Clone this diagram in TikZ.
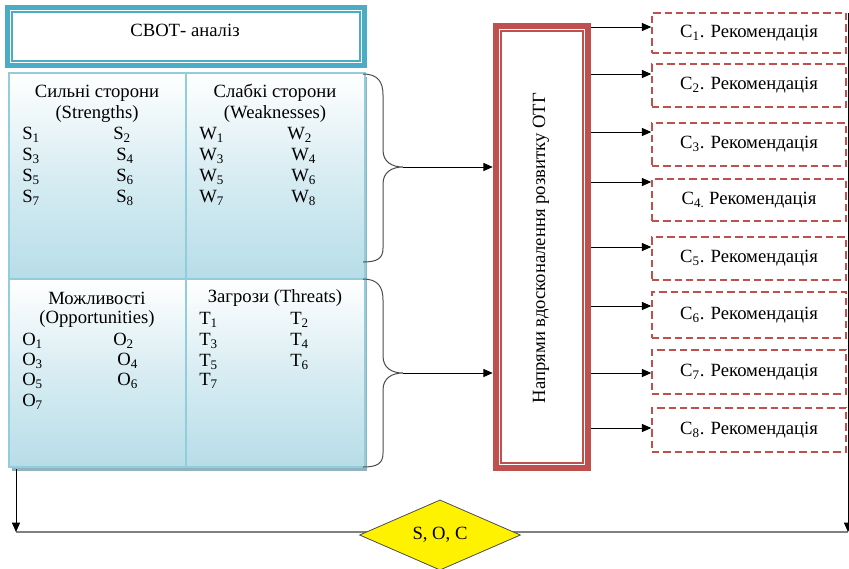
\documentclass[tikz,border=0pt]{standalone}
\usepackage{fontspec}
\setmainfont{Liberation Serif}
\usetikzlibrary{arrows.meta,shapes.geometric}
\definecolor{tealc}{HTML}{4BACC6}
\definecolor{cellblue}{HTML}{B7DDE8}
\definecolor{gridc}{HTML}{92CDDC}
\definecolor{shadowc}{HTML}{8FB4BE}
\definecolor{redc}{HTML}{C0504D}
\begin{document}
\begin{tikzpicture}[x=0.75pt,y=-0.75pt,
  every node/.style={font=\fontsize{14}{16}\selectfont, inner sep=0pt},
  arr/.style={-{Triangle[length=7pt,width=6pt]}, line width=0.75pt, black},
  bracec/.style={draw=black!70, line width=0.75pt},
  recbox/.style={draw=redc, dash pattern=on 5.5pt off 3pt, line width=1.1pt, minimum width=145.5pt},
  cellshade/.style={top color=white, bottom color=cellblue, middle color=white!45!cellblue},
  item/.style={anchor=west},
  ttl/.style={anchor=center}]
\useasboundingbox (0,0) rectangle (849,568);

% ---- title box
\draw[tealc, line width=3.4pt] (7.5,7.5) rectangle (364.5,65.5);
\draw[tealc, line width=0.8pt] (12,12) rectangle (360,61);
\node (T) at (185,30) {СВОТ- аналіз};

% ---- SWOT grid
\fill[shadowc] (12,77) rectangle (367,471);
\shade[cellshade] (9,73) rectangle (186,279);
\shade[cellshade] (186,73) rectangle (365,279);
\shade[cellshade] (9,279) rectangle (186,467);
\shade[cellshade] (186,279) rectangle (365,467);
\draw[gridc, line width=0.9pt] (9,73) rectangle (365,467);
\draw[gridc, line width=0.9pt] (186,73) -- (186,467);
\draw[gridc, line width=0.9pt] (9,279) -- (365,279);
\node[minimum width=267pt, minimum height=295.5pt] (G) at (187,270) {};

% S cell
\node[ttl] (sh1) at (97,93) {Сильні сторони};
\node[ttl] (sh2) at (97,114) {(Strengths)};
\node[item] (s1) at (22,135) {S\textsubscript{1}};
\node[item] (s2) at (113,135) {S\textsubscript{2}};
\node[item] (s3) at (22,156) {S\textsubscript{3}};
\node[item] (s4) at (116,156) {S\textsubscript{4}};
\node[item] (s5) at (22,177) {S\textsubscript{5}};
\node[item] (s6) at (116,177) {S\textsubscript{6}};
\node[item] (s7) at (22,198) {S\textsubscript{7}};
\node[item] (s8) at (116,198) {S\textsubscript{8}};
% W cell
\node[ttl] (wh1) at (275,93) {Слабкі сторони};
\node[ttl] (wh2) at (275,114) {(Weaknesses)};
\node[item] (w1) at (199,135) {W\textsubscript{1}};
\node[item] (w2) at (287,135) {W\textsubscript{2}};
\node[item] (w3) at (199,156) {W\textsubscript{3}};
\node[item] (w4) at (291,156) {W\textsubscript{4}};
\node[item] (w5) at (199,177) {W\textsubscript{5}};
\node[item] (w6) at (291,177) {W\textsubscript{6}};
\node[item] (w7) at (199,198) {W\textsubscript{7}};
\node[item] (w8) at (291,198) {W\textsubscript{8}};
% O cell
\node[ttl] (oh1) at (97,298) {Можливості};
\node[ttl] (oh2) at (97,319) {(Opportunities)};
\node[item] (o1) at (22,341) {O\textsubscript{1}};
\node[item] (o2) at (113,341) {O\textsubscript{2}};
\node[item] (o3) at (22,361) {O\textsubscript{3}};
\node[item] (o4) at (117,361) {O\textsubscript{4}};
\node[item] (o5) at (22,381) {O\textsubscript{5}};
\node[item] (o6) at (117,381) {O\textsubscript{6}};
\node[item] (o7) at (22,402) {O\textsubscript{7}};
% T cell
\node[ttl] (th1) at (275,298) {Загрози (Threats)};
\node[item] (t1) at (199,320) {T\textsubscript{1}};
\node[item] (t2) at (290,320) {T\textsubscript{2}};
\node[item] (t3) at (199,341) {T\textsubscript{3}};
\node[item] (t4) at (290,341) {T\textsubscript{4}};
\node[item] (t5) at (199,362) {T\textsubscript{5}};
\node[item] (t6) at (290,362) {T\textsubscript{6}};
\node[item] (t7) at (199,381) {T\textsubscript{7}};

% ---- braces
\draw[bracec] (363,74) .. controls (378,74) and (383,82) .. (383,95) -- (383,150)
  .. controls (383,162) and (392,167) .. (403,167)
  .. controls (392,167) and (383,172) .. (383,184) -- (383,248)
  .. controls (383,258) and (378,262) .. (363,262);
\draw[bracec] (363,279) .. controls (378,279) and (383,287) .. (383,300) -- (383,356)
  .. controls (383,368) and (392,373) .. (403,373)
  .. controls (392,373) and (383,378) .. (383,390) -- (383,453)
  .. controls (383,463) and (378,467) .. (363,467);
\coordinate (b1) at (403,167);
\coordinate (b2) at (403,373);

% ---- red box
\node[minimum width=73.5pt, minimum height=336pt] (R) at (542,247) {};
\draw[redc, line width=4.4pt] (496,26) rectangle (588,468);
\draw[redc, line width=0.8pt] (501,31) rectangle (583,463);
\node[rotate=90] (Rt) at (541,248) {Напрями вдосконалення розвитку ОТГ};

\draw[arr] (b1) -- (b1 -| R.west);
\draw[arr] (b2) -- (b2 -| R.west);

% ---- recommendation boxes
\node[recbox, minimum height=30pt] (c1) at (749,33) {С\textsubscript{1}. Рекомендація};
\node[recbox, minimum height=32pt] (c2) at (749,85.5) {С\textsubscript{2}. Рекомендація};
\node[recbox, minimum height=32pt] (c3) at (749,144.5) {С\textsubscript{3}. Рекомендація};
\node[recbox, minimum height=31.5pt] (c4) at (749,200) {С\textsubscript{4.} Рекомендація};
\node[recbox, minimum height=32pt] (c5) at (749,258.5) {С\textsubscript{5}. Рекомендація};
\node[recbox, minimum height=34.5pt] (c6) at (749,315) {С\textsubscript{6}. Рекомендація};
\node[recbox, minimum height=33pt] (c7) at (749,372) {С\textsubscript{7}. Рекомендація};
\node[recbox, minimum height=33pt] (c8) at (749,430) {С\textsubscript{8}. Рекомендація};

\coordinate (a1) at (591,27);
\coordinate (a2) at (591,74);
\coordinate (a3) at (591,132);
\coordinate (a4) at (591,182);
\coordinate (a5) at (591,247);
\coordinate (a6) at (591,306);
\coordinate (a7) at (591,373);
\coordinate (a8) at (591,428);
\foreach \i in {1,...,8} {\draw[arr] (a\i) -- (a\i -| c\i.west);}

% ---- feedback loop
\coordinate (l1) at (16,469);
\coordinate (l2) at (16,532);
\coordinate (r1) at (848,13);
\coordinate (r2) at (848,532);
\draw[gray, line width=0.9pt] (l2) -- (r2);
\draw[arr] (l1) -- (l2);
\draw[arr] (r1) -- (r2);
\node[diamond, draw=black!70, fill=yellow, line width=0.6pt, minimum width=120.75pt, minimum height=48pt] (D) at (440,535) {S, O, C};
\end{tikzpicture}
\end{document}
